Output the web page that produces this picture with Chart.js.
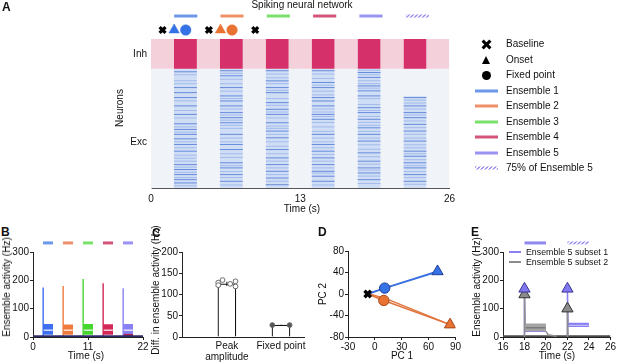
<!DOCTYPE html>
<html><head><meta charset="utf-8">
<script src="https://cdn.jsdelivr.net/npm/chart.js@4.4.1/dist/chart.umd.min.js"></script>
<style>
html,body{margin:0;padding:0;background:#fff;}
body{width:617px;height:364px;position:relative;overflow:hidden;font-family:"Liberation Sans",Arial,Helvetica,sans-serif;color:#111;}
canvas{position:absolute;}
.t{position:absolute;font-size:10px;line-height:10px;white-space:nowrap;transform:translate(-50%,-50%);}
.tl{position:absolute;font-size:10px;line-height:10px;white-space:nowrap;transform:translate(0,-50%);}
.r{transform:translate(-50%,-50%) rotate(-90deg);}
.P{position:absolute;font-weight:bold;font-size:12px;line-height:12px;}
.ln{position:absolute;height:3px;transform:translateY(-50%);}
.xm{position:absolute;width:11px;height:3px;background:#000;}
</style></head><body>
<canvas id="cA" width="360" height="215" style="left:100px;top:0"></canvas>
<canvas id="cAh" width="360" height="30" style="left:100px;top:8px"></canvas>
<canvas id="cB" width="150" height="124" style="left:0;top:240px"></canvas>
<canvas id="cC" width="160" height="124" style="left:150px;top:240px"></canvas>
<canvas id="cD" width="157" height="124" style="left:305px;top:240px"></canvas>
<canvas id="cE" width="155" height="124" style="left:462px;top:240px"></canvas>

<div class="P" style="left:2px;top:1px">A</div>
<div class="t" style="left:302px;top:5px">Spiking neural network</div>
<div class="t r" style="left:120px;top:108px">Neurons</div>
<div class="t" style="left:302px;top:209px">Time (s)</div>

<!-- legend A -->
<div class="xm" style="left:481px;top:42.5px;transform:rotate(45deg)"></div>
<div class="xm" style="left:481px;top:42.5px;transform:rotate(-45deg)"></div>
<div style="position:absolute;left:482px;top:55.5px;width:0;height:0;border-left:4.5px solid transparent;border-right:4.5px solid transparent;border-bottom:8.5px solid #000"></div>
<div style="position:absolute;left:482px;top:70.5px;width:9px;height:9px;border-radius:50%;background:#000"></div>
<div class="tl" style="left:506px;top:44px">Baseline</div>
<div class="tl" style="left:506px;top:60px">Onset</div>
<div class="tl" style="left:506px;top:75px">Fixed point</div>
<div id="legA"></div>

<div class="P" style="left:1px;top:226px">B</div>
<div class="t r" style="left:7px;top:287px">Ensemble activity (Hz)</div>
<div class="t" style="left:86px;top:356px">Time (s)</div>

<div class="P" style="left:152px;top:227px">C</div>
<div class="t r" style="left:156px;top:290px">Diff. in ensemble activity (Hz)</div>

<div class="P" style="left:318px;top:226px">D</div>
<div class="t r" style="left:323px;top:294px">PC 2</div>
<div class="t" style="left:402px;top:356px">PC 1</div>

<div class="P" style="left:471px;top:226px">E</div>
<div class="t r" style="left:477px;top:287px">Ensemble activity (Hz)</div>
<div class="t" style="left:557px;top:356px">Time (s)</div>
<div class="ln" style="left:509px;top:252px;width:12px;height:2px;background:#8a80f2"></div>
<div class="ln" style="left:509px;top:262px;width:12px;height:2px;background:#8c8c8c"></div>
<div class="tl" style="left:526px;top:252px;font-size:8.8px">Ensemble 5 subset 1</div>
<div class="tl" style="left:526px;top:262px;font-size:8.8px">Ensemble 5 subset 2</div>

<script>
// ================= DATA =================
// Panel A (raster)
const stimStarts = [2, 6, 10, 14, 18, 22];
const stimDur = 2;
const rasterTicks = [0, 13, 26];
const rowLabelValues = [305, 900];
const rowLabels = ['Exc', 'Inh'];
const nExc = 800;
const nTotal = 1000;
const activeTop = [800, 800, 800, 800, 800, 615];   // driven exc neurons (last block: 75% of ensemble 5)
const stripes = [
  [780, 674, 640, 607, 551, 494, 431, 393, 360, 330, 292, 247, 157, 124, 90, 56, 34],
  [787, 753, 674, 618, 584, 551, 506, 472, 438, 360, 292, 258, 169, 135, 90, 45],
  [787, 719, 674, 640, 573, 528, 494, 438, 382, 337, 258, 202, 157, 112, 67, 22],
  [787, 708, 674, 607, 584, 551, 494, 461, 360, 292, 247, 202, 157, 112, 79, 45],
  [775, 742, 685, 652, 618, 539, 506, 461, 404, 360, 315, 236, 180, 135, 101, 56],
  [607, 551, 506, 472, 427, 382, 315, 247, 213, 169, 135, 90, 45]
];
const faintStripes = [
  [760, 720, 700, 585, 520, 470, 410, 375, 310, 270, 220, 200, 180, 140, 105, 70, 15],
  [770, 730, 700, 650, 600, 530, 490, 455, 420, 400, 335, 310, 230, 205, 150, 110, 70, 20],
  [765, 740, 700, 655, 600, 555, 510, 470, 415, 400, 360, 310, 280, 230, 180, 135, 90, 45],
  [765, 735, 690, 650, 625, 530, 510, 480, 440, 410, 380, 335, 310, 270, 225, 180, 135, 100, 20],
  [790, 760, 720, 700, 670, 600, 560, 520, 480, 440, 420, 380, 335, 290, 260, 210, 160, 120, 80, 30],
  [590, 570, 530, 490, 450, 405, 360, 335, 290, 270, 230, 190, 150, 110, 70, 25]
];
const headerBaselineT = [1, 5, 9];
const headerOnsetT = [2, 6];
const headerFixedT = [3, 7];
const legendNames = ['Ensemble 1', 'Ensemble 2', 'Ensemble 3', 'Ensemble 4', 'Ensemble 5', '75% of Ensemble 5'];

// Panel B
const bStarts = [2, 6, 10, 14, 18];
const bPeak = [175, 180, 205, 190, 172];
const bHigh = [46, 44, 46, 45, 46];
const bGap = [24, 24, 24, 24, 24];
const bLow = [8, 8, 8, 8, 8];
const bResidual = [0, 0, 0, 0, 11];
const bBase = 2;
const bTicks = [0, 11, 22];
const bYTicks = [0, 100, 200, 300];

// Panel C
const cCategories = [['Peak', 'amplitude'], 'Fixed point'];
const cMeans = [125, 28];
const cErr = [5, 1];
const cPeakPoints = [128, 122, 134, 125, 131, 119];
const cFixedPoints = [28, 28];
const cYTicks = [0, 50, 100, 150, 200];

// Panel D
const dBaseline = [-8, 0];
const dOnset = [[70, 42], [84, -57]];
const dFixed = [[11, 11], [10, -12]];
const dOrangeTrial2 = [[-8, 1], [13, -9], [84, -57]];
const dXTicks = [-30, 0, 30, 60, 90];
const dYTicks = [-80, -40, 0, 40, 80];

// Panel E
const eSpikeT = [18, 22];
const eSub1Peak = [170, 170];
const eSub2Peak = [150, 100];
const eSub1High = [30, 50];
const eSub1Low = [18, 35];
const eSub2High = [48, 0];
const eSub2Low = [20, 0];
const eBase = 3;
const eTicks = [16, 18, 20, 22, 24, 26];
const eYTicks = [0, 100, 200, 300];

// ================= STYLE =================
const ensLegend = ['#6d97e9', '#ee9169', '#7be06c', '#d4547a', '#9b93f3'];
const ensB = ['#3d6ff0', '#f07a3c', '#46d630', '#d42858', '#8a80f5'];
const mkColors = ['#3572e5', '#e87232'];
const mkBorders = ['#1f3f99', '#a8481c'];
const FONT = '"Liberation Sans", Arial, Helvetica, sans-serif';

Chart.defaults.font.family = FONT;
Chart.defaults.font.size = 10;
Chart.defaults.color = '#111';
Chart.defaults.animation = false;
Chart.defaults.events = [];
Chart.defaults.responsive = false;
Chart.defaults.layout.autoPadding = false;
Chart.defaults.plugins.legend.display = false;
Chart.defaults.plugins.tooltip.enabled = false;

function hatchPattern(color) {
  const c = document.createElement('canvas'); c.width = 4; c.height = 4;
  const g = c.getContext('2d');
  g.fillStyle = '#ffffff'; g.fillRect(0, 0, 4, 4);
  g.strokeStyle = color; g.lineWidth = 1.3;
  g.beginPath(); g.moveTo(-1, 5); g.lineTo(5, -1); g.stroke();
  g.beginPath(); g.moveTo(-1, 1); g.lineTo(1, -1); g.stroke();
  g.beginPath(); g.moveTo(3, 5); g.lineTo(5, 3); g.stroke();
  return g.createPattern(c, 'repeat');
}

// legend A lines
(function () {
  const host = document.getElementById('legA');
  const rows = [91, 106, 121.5, 137, 152.5, 168];
  legendNames.forEach((n, i) => {
    const l = document.createElement('div');
    l.className = 'ln';
    l.style.left = '475px'; l.style.top = rows[i] + 'px'; l.style.width = '23px';
    l.style.background = i < 5 ? ensLegend[i] :
      'repeating-linear-gradient(135deg,#9b93f3 0 1.4px,#ffffff 1.4px 2.8px)';
    host.appendChild(l);
    const t = document.createElement('div');
    t.className = 'tl'; t.style.left = '506px'; t.style.top = rows[i] + 'px';
    t.textContent = n;
    host.appendChild(t);
  });
})();

const P = (arr) => arr.map(p => ({ x: p[0], y: p[1] }));
function rectDS(x0, x1, yTop, yBot, color, order) {
  return { data: [{ x: x0, y: yTop }, { x: x1, y: yTop }], fill: { value: yBot },
    backgroundColor: color, borderColor: 'transparent', borderWidth: 0, pointRadius: 0, order };
}
function lineDS(points, color, width, order, extra) {
  return Object.assign({ data: P(points), fill: false, borderColor: color, borderWidth: width,
    pointRadius: 0, order, tension: 0, borderCapStyle: 'butt' }, extra || {});
}
function fixedTicks(vals) { return s => { s.ticks = vals.map(v => ({ value: v })); }; }
function axis(opts) {
  return Object.assign({
    type: 'linear',
    grid: { display: true, drawOnChartArea: false, drawTicks: true, tickLength: 3, color: '#222', lineWidth: 1 },
    border: { display: true, color: '#222', width: 1 },
    ticks: { autoSkip: false, maxRotation: 0, padding: 1, color: '#111', font: { size: 10 } }
  }, opts);
}
function stripeDS(t, list, color, width, order) {
  const pts = [];
  list.forEach(n => { pts.push({ x: t, y: n }, { x: t + stimDur, y: n }, { x: t + stimDur, y: null }); });
  return { data: pts, fill: false, borderColor: color, borderWidth: width, pointRadius: 0, order, spanGaps: false };
}

// ================= PANEL A =================
const dsA = [];
dsA.push(rectDS(0, 26, nTotal, nExc, '#f4d0db', 10));
dsA.push(rectDS(0, 26, nExc, 0, '#f0f3f8', 10));
stimStarts.forEach((t, i) => {
  dsA.push(rectDS(t, t + stimDur, nTotal, nExc, '#d5306a', 8));
  dsA.push(rectDS(t, t + stimDur, activeTop[i], 0, 'rgba(180,202,242,0.55)', 8));
  dsA.push(stripeDS(t, faintStripes[i], 'rgba(95,135,220,0.38)', 1, 7));
  dsA.push(stripeDS(t, stripes[i], 'rgba(60,105,210,0.7)', 1, 6));
});
new Chart(document.getElementById('cA'), {
  type: 'line',
  data: { datasets: dsA },
  options: {
    layout: { padding: { top: 39, right: 8, left: 0, bottom: 0 } },
    scales: {
      x: { type: 'linear', min: 0, max: 26, afterBuildTicks: fixedTicks(rasterTicks),
        grid: { display: false, drawTicks: false }, border: { display: true, color: '#555', width: 1 },
        ticks: { autoSkip: false, maxRotation: 0, padding: 5, color: '#111' },
        afterFit: s => { s.height = 27; } },
      y: { type: 'linear', min: 0, max: nTotal, afterBuildTicks: fixedTicks(rowLabelValues),
        grid: { display: false, drawTicks: false }, border: { display: true, color: '#c4c4c4', width: 1 },
        ticks: { autoSkip: false, padding: 4, color: '#111', callback: (v, i) => rowLabels[i] },
        afterFit: s => { s.width = 51; } }
    }
  }
});

// header of A (stimulus bars and markers)
const hatch = hatchPattern('#8f86f0');
const dsAh = [];
stimStarts.forEach((t, i) => {
  dsAh.push(lineDS([[t, 0.733], [t + stimDur, 0.733]], i < 5 ? ensLegend[i] : hatch, 3, 5));
});
dsAh.push({ data: headerBaselineT.map(t => ({ x: t, y: 0.267 })), showLine: false, pointStyle: 'crossRot',
  pointRadius: 4.2, pointBorderWidth: 3.2, pointBorderColor: '#000', pointBackgroundColor: '#000', order: 1 });
dsAh.push({ data: headerOnsetT.map(t => ({ x: t, y: 0.267 })), showLine: false, pointStyle: 'triangle',
  pointRadius: 6, pointBorderWidth: 0.5, pointBorderColor: mkColors, pointBackgroundColor: mkColors, order: 1 });
dsAh.push({ data: headerFixedT.map(t => ({ x: t, y: 0.267 })), showLine: false, pointStyle: 'circle',
  pointRadius: 5.3, pointBorderWidth: 0.5, pointBorderColor: mkColors, pointBackgroundColor: mkColors, order: 1 });
new Chart(document.getElementById('cAh'), {
  type: 'line',
  data: { datasets: dsAh },
  options: {
    layout: { padding: { top: 0, right: 8, left: 51, bottom: 0 } },
    scales: { x: { type: 'linear', min: 0, max: 26, display: false }, y: { type: 'linear', min: 0, max: 1, display: false } }
  }
});

// ================= PANEL B =================
const dsB = [];
bStarts.forEach((t, i) => {
  dsB.push(lineDS([[t, 332], [t + stimDur, 332]], ensLegend[i], 3, 1, { clip: false }));
  dsB.push(rectDS(t, t + stimDur, bHigh[i], bLow[i], ensB[i], 6));
  if (bResidual[i] > 0) dsB.push(rectDS(t, t + stimDur, bResidual[i], bBase, '#a8284e', 5));
  dsB.push(lineDS([[t + 0.15, bGap[i]], [t + stimDur - 0.05, bGap[i]]], 'rgba(255,255,255,0.9)', 1.3, 4));
  dsB.push(lineDS([[t, 0], [t, bPeak[i]], [t + 0.06, bHigh[i]]], ensB[i], 1.4, 4));
});
dsB.push(lineDS([[0, bBase], [22, bBase]], '#2d2b6b', 2.4, 3));
new Chart(document.getElementById('cB'), {
  type: 'line',
  data: { datasets: dsB },
  options: {
    layout: { padding: { top: 12, right: 7, left: 0, bottom: 0 } },
    scales: {
      x: axis({ min: 0, max: 22, afterBuildTicks: fixedTicks(bTicks), afterFit: s => { s.height = 27; } }),
      y: axis({ min: 0, max: 300, afterBuildTicks: fixedTicks(bYTicks), afterFit: s => { s.width = 33; } })
    }
  }
});

// ================= PANEL C =================
const cPeakJitter = [-0.16, -0.16, -0.08, 0.06, 0.16, 0.16];
const cFixedJitter = [-0.16, 0.16];
const errPts = [];
cMeans.forEach((m, i) => {
  const x = i + 1;
  errPts.push({ x, y: m - cErr[i] }, { x, y: m + cErr[i] }, { x, y: null });
});
new Chart(document.getElementById('cC'), {
  type: 'bar',
  data: { datasets: [
    { type: 'line', data: cPeakPoints.map((v, k) => ({ x: 1 + cPeakJitter[k], y: v }))
        .concat(cFixedPoints.map((v, k) => ({ x: 2 + cFixedJitter[k], y: v }))),
      showLine: false, pointRadius: 2.4, pointBorderWidth: 1, pointBorderColor: '#6a6a6a',
      pointBackgroundColor: ['#fff', '#fff', '#fff', '#fff', '#fff', '#fff', '#555', '#555'], order: 1 },
    { type: 'line', data: errPts, fill: false, borderColor: '#111', borderWidth: 1, pointRadius: 0, spanGaps: false, order: 2 },
    { type: 'bar', data: cMeans.map((m, i) => ({ x: i + 1, y: m })), backgroundColor: '#fff',
      borderColor: '#111', borderWidth: 1.2, barThickness: 18, order: 3 }
  ] },
  options: {
    layout: { padding: { top: 12, right: 3, left: 0, bottom: 0 } },
    scales: {
      x: axis({ min: 0.17, max: 2.43, offset: false, afterBuildTicks: fixedTicks([1, 2]),
        grid: { display: false, drawTicks: false },
        ticks: { autoSkip: false, maxRotation: 0, padding: 4, color: '#111', font: { size: 10, lineHeight: 1.1 },
          callback: (v, i) => cCategories[i] },
        afterFit: s => { s.height = 27; } }),
      y: axis({ min: 0, max: 200, afterBuildTicks: fixedTicks(cYTicks), afterFit: s => { s.width = 32; } })
    }
  }
});

// ================= PANEL D =================
const dsD = [
  { data: [{ x: dBaseline[0], y: dBaseline[1] }], showLine: false, pointStyle: 'crossRot', pointRadius: 4.5,
    pointBorderWidth: 3.4, pointBorderColor: '#000', order: 1 },
  { data: P(dFixed), showLine: false, pointStyle: 'circle', pointRadius: 5.2, pointBorderWidth: 1,
    pointBackgroundColor: mkColors, pointBorderColor: mkBorders, order: 1 },
  { data: P(dOnset), showLine: false, pointStyle: 'triangle', pointRadius: 6.5, pointBorderWidth: 1,
    pointBackgroundColor: mkColors, pointBorderColor: mkBorders, order: 1 },
  lineDS([dBaseline, dFixed[0], dOnset[0]], '#3a70e0', 2, 3),
  lineDS([dBaseline, dFixed[1], dOnset[1]], '#e0733c', 1.5, 3),
  lineDS(dOrangeTrial2, '#e0733c', 1.5, 3)
];
new Chart(document.getElementById('cD'), {
  type: 'line',
  data: { datasets: dsD },
  options: {
    layout: { padding: { top: 11, right: 6, left: 0, bottom: 0 } },
    scales: {
      x: axis({ min: -30, max: 90, afterBuildTicks: fixedTicks(dXTicks), afterFit: s => { s.height = 27; } }),
      y: axis({ min: -80, max: 80, afterBuildTicks: fixedTicks(dYTicks), afterFit: s => { s.width = 43; } })
    }
  }
});

// ================= PANEL E =================
const purple = '#8a80f2', gray = '#8e8e8e';
const dsE = [];
dsE.push(lineDS([[18, 332], [20, 332]], '#9088f0', 3, 1, { clip: false }));
dsE.push(lineDS([[22, 332], [24, 332]], hatch, 3, 1, { clip: false }));
dsE.push({ data: eSpikeT.map((t, k) => ({ x: t, y: eSub1Peak[k] })), showLine: false, pointStyle: 'triangle',
  pointRadius: 6.5, pointBorderWidth: 1, pointBackgroundColor: '#8378f0', pointBorderColor: '#3a3596', order: 1 });
dsE.push({ data: eSpikeT.map((t, k) => ({ x: t, y: eSub2Peak[k] })), showLine: false, pointStyle: 'triangle',
  pointRadius: 6.5, pointBorderWidth: 1, pointBackgroundColor: '#8a8a8a', pointBorderColor: '#333', order: 1 });
eSpikeT.forEach((t, k) => {
  if (eSub2High[k] > 0) {
    dsE.push(rectDS(t, t + 2, eSub2High[k], eSub2Low[k], '#a4a4a4', 4));
    dsE.push(lineDS([[t + 0.1, 33], [t + 1.95, 33]], '#7a7a7a', 1.5, 3));
    dsE.push(lineDS([[t + 2, eSub2Low[k]], [t + 2.2, 8], [t + 3, eBase]], gray, 1.5, 3));
  }
  dsE.push(lineDS([[t, 0], [t, eSub2Peak[k]], [t + 0.05, Math.max(eSub2High[k], 5)]], gray, 1.5, 2));
  dsE.push(rectDS(t, t + 2, eSub1High[k], eSub1Low[k], purple, 6));
  if (k === 1) dsE.push(lineDS([[t + 0.1, 41], [t + 1.95, 41]], 'rgba(255,255,255,0.55)', 1, 5));
  dsE.push(lineDS([[t, 0], [t, eSub1Peak[k]], [t + 0.05, eSub1High[k]]], purple, 1.5, 5));
});
dsE.push(lineDS([[16, eBase], [26, eBase]], '#4a4a4a', 2, 3));
new Chart(document.getElementById('cE'), {
  type: 'line',
  data: { datasets: dsE },
  options: {
    layout: { padding: { top: 12, right: 5, left: 0, bottom: 0 } },
    scales: {
      x: axis({ min: 16, max: 26, afterBuildTicks: fixedTicks(eTicks), afterFit: s => { s.height = 27; } }),
      y: axis({ min: 0, max: 300, afterBuildTicks: fixedTicks(eYTicks), afterFit: s => { s.width = 41; } })
    }
  }
});
</script>
</body></html>
